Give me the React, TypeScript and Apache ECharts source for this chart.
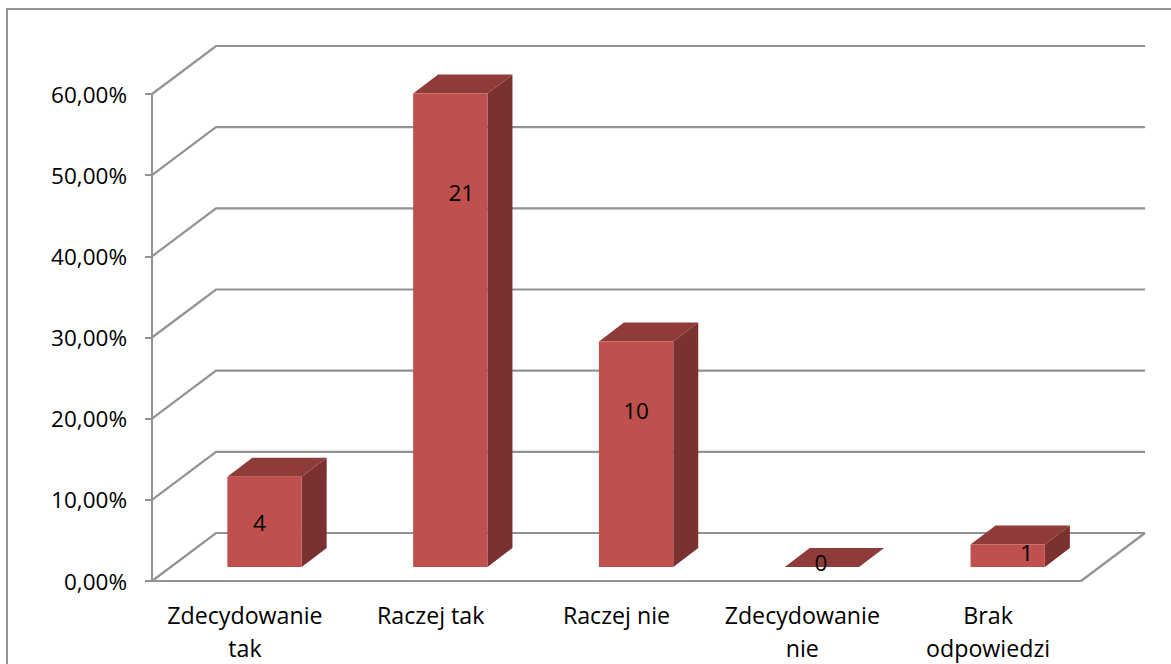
import React, { useEffect, useRef } from "react";
import * as echarts from "echarts";

const categories = ["Zdecydowanie\ntak", "Raczej tak", "Raczej nie", "Zdecydowanie\nnie", "Brak\nodpowiedzi"];
const shares = [11.11, 58.33, 27.78, 0, 2.78];
const counts = [4, 21, 10, 0, 1];
const gridValues = [0, 10, 20, 30, 40, 50, 60];

const GRAY = "#929292";
const FONT = "'Open Sans', Lato, sans-serif";
const FONT_SIZE = 22.5;
const CATEGORY_FONT_SIZE = 23.2;
const WALL_DX = 64;
const WALL_DY = -48;
const BAR_SHIFT_X = 19.6;
const BAR_SHIFT_Y = -14;
const BAR_DX = 25;
const BAR_DY = -19;
const BAR_RATIO = 0.4;
// the source chart's labels were placed by hand, relative to the centre of each front face
const labelNudges = [[-5, 1], [11, -138], [0, -44], [-1, -5], [19, -3]];

const renderGrid = (params: any, api: any) => {
  const v = api.value(0);
  const cs = params.coordSys;
  const y = api.coord([0, v])[1];
  const left = cs.x;
  const right = cs.x + cs.width;
  const children: any[] = [
    {
      type: "polyline",
      shape: { points: [[left, y], [left + WALL_DX, y + WALL_DY], [right + WALL_DX, y + WALL_DY]] },
      style: { stroke: GRAY, lineWidth: 2.2, fill: "none" },
    },
  ];
  if (v === 0) {
    children.push({
      type: "line",
      shape: { x1: right, y1: y, x2: right + WALL_DX, y2: y + WALL_DY },
      style: { stroke: GRAY, lineWidth: 2.2 },
    });
  }
  return { type: "group", children };
};

const renderBar = (params: any, api: any) => {
  const i = api.value(0);
  const v = api.value(1);
  const base = api.coord([i, 0]);
  const top = api.coord([i, v]);
  const w = api.size([1, 0])[0] * BAR_RATIO;
  const x0 = base[0] + BAR_SHIFT_X - w / 2;
  const x1 = x0 + w;
  const yb = base[1] + BAR_SHIFT_Y;
  const yt = top[1] + BAR_SHIFT_Y;
  const nudge = labelNudges[params.dataIndex];
  return {
    type: "group",
    children: [
      {
        type: "polygon",
        shape: { points: [[x1, yt], [x1 + BAR_DX, yt + BAR_DY], [x1 + BAR_DX, yb + BAR_DY], [x1, yb]] },
        style: { fill: "#7b312f" },
      },
      {
        type: "polygon",
        shape: { points: [[x0, yt], [x0 + BAR_DX, yt + BAR_DY], [x1 + BAR_DX, yt + BAR_DY], [x1, yt]] },
        style: { fill: "#8f3b39" },
      },
      {
        type: "rect",
        shape: { x: x0, y: yt, width: w, height: yb - yt },
        style: { fill: "#c0504d" },
      },
      {
        type: "text",
        x: (x0 + x1) / 2 + nudge[0],
        y: (yt + yb) / 2 + nudge[1],
        style: {
          text: String(counts[params.dataIndex]),
          font: `${FONT_SIZE}px ${FONT}`,
          fill: "#000",
          align: "center",
          verticalAlign: "middle",
        },
      },
    ],
  };
};

export default function App() {
  const ref = useRef<HTMLDivElement>(null);
  useEffect(() => {
    const chart = echarts.init(ref.current!, undefined, { renderer: "svg" });
    chart.setOption({
      animation: false,
      backgroundColor: "#fff",
      graphic: [
        {
          type: "rect",
          silent: true,
          shape: { x: 7, y: 9, width: 1300, height: 800 },
          style: { fill: "none", stroke: GRAY, lineWidth: 2 },
        },
      ],
      grid: { left: 152, top: 94, width: 929, height: 487 },
      xAxis: {
        type: "category",
        data: categories,
        axisLine: { lineStyle: { color: GRAY, width: 2 } },
        axisTick: { length: 7, lineStyle: { color: GRAY, width: 2 } },
        axisLabel: { color: "#000", fontFamily: FONT, fontSize: CATEGORY_FONT_SIZE, lineHeight: 33, margin: 17, interval: 0 },
        splitLine: { show: false },
      },
      yAxis: {
        type: "value",
        min: 0,
        max: 60,
        interval: 10,
        axisLine: { show: true, lineStyle: { color: GRAY, width: 2 } },
        axisTick: { show: true, length: 7, lineStyle: { color: GRAY, width: 2 } },
        axisLabel: {
          color: "#000",
          fontFamily: FONT,
          fontSize: FONT_SIZE,
          margin: 25,
          formatter: (v: number) => v.toFixed(2).replace(".", ",") + "%",
        },
        splitLine: { show: false },
      },
      series: [
        {
          type: "custom",
          z: 1,
          silent: true,
          encode: { y: 0 },
          data: gridValues.map((v) => [v]),
          renderItem: renderGrid,
        },
        {
          type: "custom",
          z: 2,
          silent: true,
          encode: { x: 0, y: 1 },
          data: shares.map((v, i) => [i, v]),
          renderItem: renderBar,
        },
      ],
    });
    return () => chart.dispose();
  }, []);
  return <div ref={ref} style={{ position: "absolute", left: 0, top: 0, width: 1171, height: 664 }} />;
}
